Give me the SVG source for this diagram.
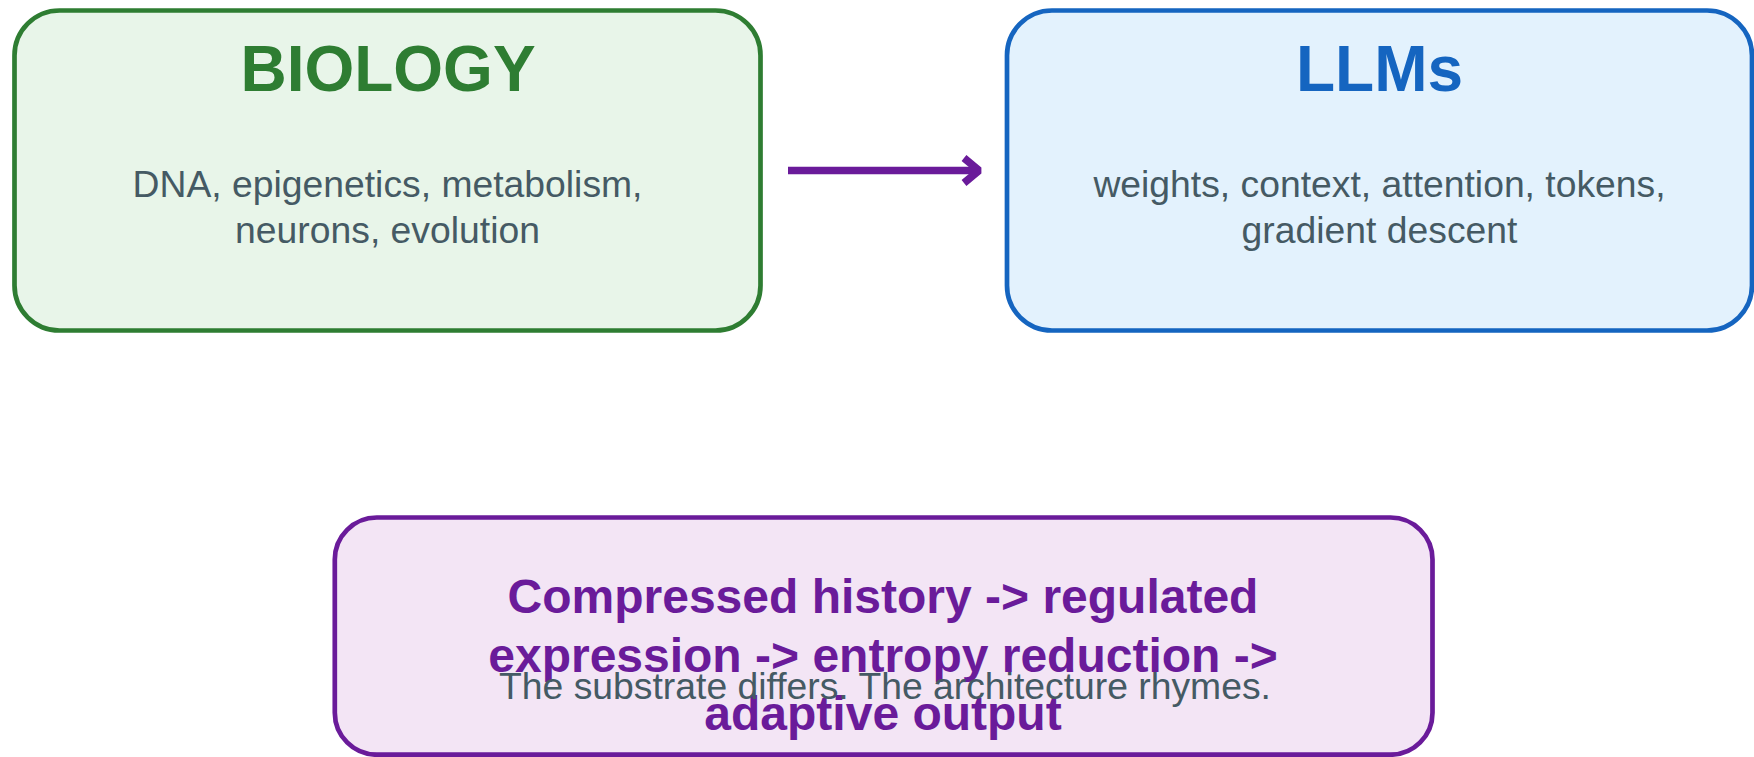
<svg xmlns="http://www.w3.org/2000/svg" width="1754" height="757" viewBox="0 0 1754 757">
<style>
  text { font-family: "Liberation Sans", Arial, sans-serif; text-anchor: middle; }
  .title { font-weight: bold; font-size: 64px; }
  .sub { font-size: 37.3px; fill: #455a64; }
  .big { font-weight: bold; font-size: 48px; fill: #6a1b9a; }
  .box { stroke-width: 4.7; }
</style>
<rect width="1754" height="757" fill="#ffffff"/>
<g id="node-biology">
  <rect class="box" x="14.5" y="10.5" width="746" height="320" rx="45" ry="45" fill="#e8f5e9" stroke="#2e7d32"/>
  <text class="title" x="388" y="90.7" fill="#2e7d32">BIOLOGY</text>
  <text class="sub" x="387.5" y="196.7">DNA, epigenetics, metabolism,</text>
  <text class="sub" x="387.5" y="243.3">neurons, evolution</text>
</g>
<g id="node-llms">
  <rect class="box" x="1007" y="10.5" width="745" height="320" rx="45" ry="45" fill="#e3f2fd" stroke="#1565c0"/>
  <text class="title" x="1379.5" y="90.7" fill="#1565c0">LLMs</text>
  <text class="sub" x="1379.5" y="196.7">weights, context, attention, tokens,</text>
  <text class="sub" x="1379.5" y="243.3">gradient descent</text>
</g>
<g id="node-summary">
  <rect class="box" x="334.8" y="517.5" width="1097.7" height="237.2" rx="42" ry="42" fill="#f3e5f5" stroke="#6a1b9a"/>
  <text class="big" x="883" y="613">Compressed history -&gt; regulated</text>
  <text class="big" x="883" y="671.5">expression -&gt; entropy reduction -&gt;</text>
  <text class="big" x="883" y="730">adaptive output</text>
  <text class="sub" x="885" y="698.5">The substrate differs. The architecture rhymes.</text>
</g>
<g id="connectors" fill="none" stroke="#6a1b9a" stroke-width="7.5">
  <line x1="788" y1="170.5" x2="976" y2="170.5"/>
  <polyline points="964,158 979,170.5 964,183" stroke-linejoin="bevel"/>
</g>
</svg>
